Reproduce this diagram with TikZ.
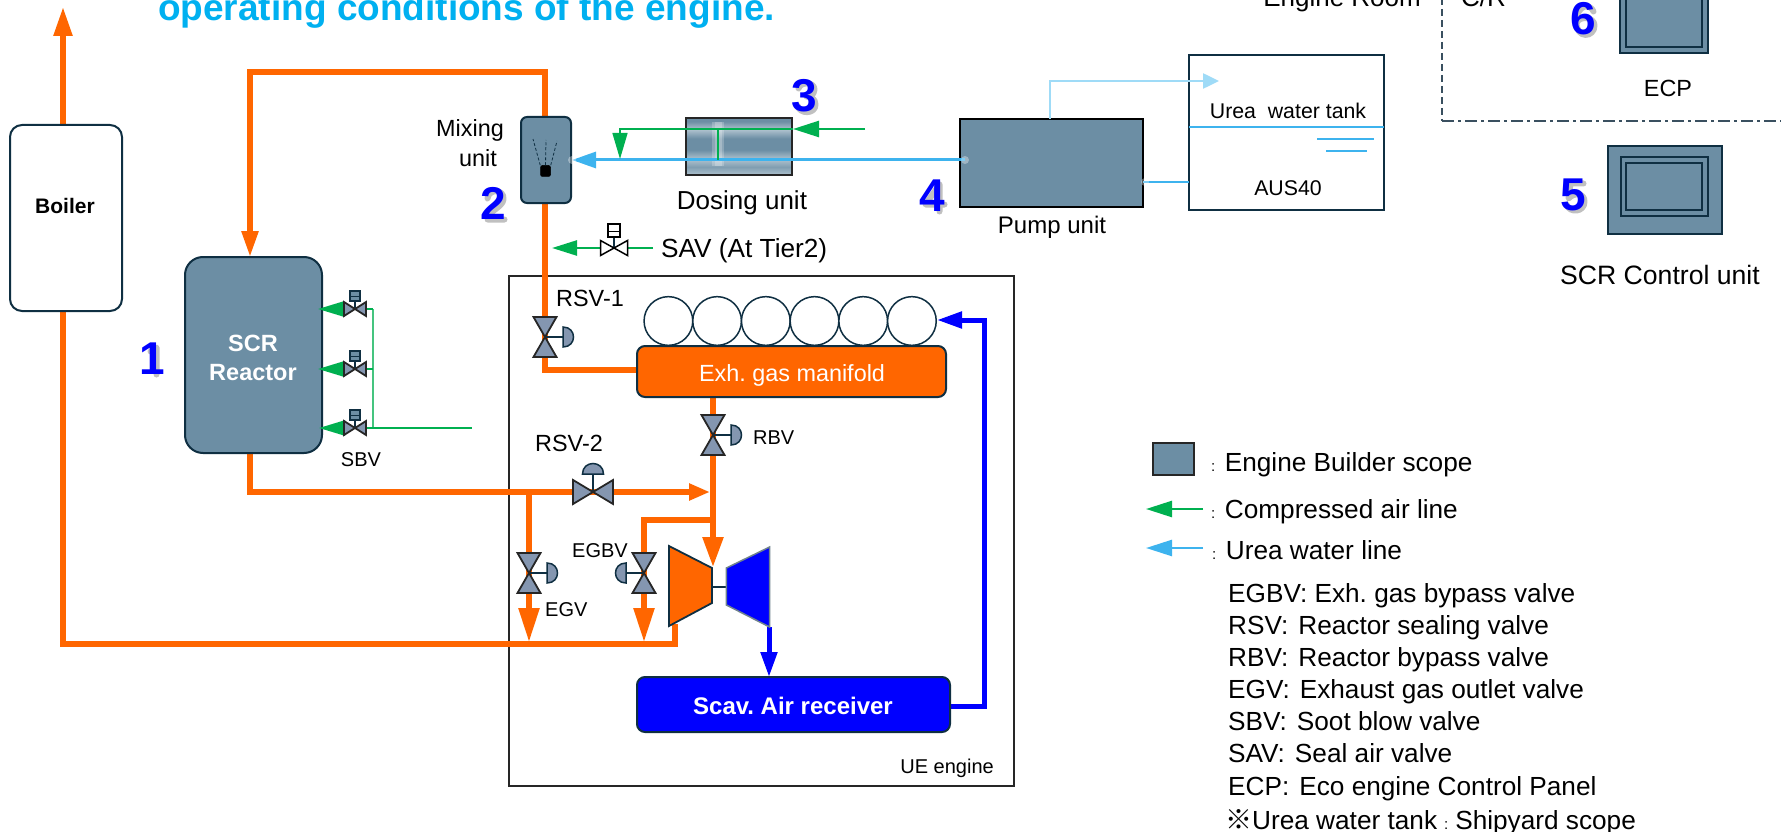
\documentclass[tikz,border=0pt]{standalone}
\usepackage{fontspec}
\setmainfont{Liberation Sans}
\newfontfamily\cjkjp{Noto Sans CJK JP}
\usetikzlibrary{arrows.meta}
\frenchspacing
\definecolor{gasorange}{HTML}{FF6600}
\definecolor{airgreen}{HTML}{00B050}
\definecolor{airlight}{HTML}{45C47F}
\definecolor{ureablue}{HTML}{3DB3EE}
\definecolor{palecyan}{HTML}{9FDBF7}
\definecolor{titlecyan}{HTML}{00B0F0}
\definecolor{scavblue}{HTML}{0000FF}
\definecolor{unitfill}{HTML}{6C8EA4}
\definecolor{unitlight}{HTML}{AFC2CE}
\definecolor{valvefill}{HTML}{8496B0}
\definecolor{darkedge}{HTML}{0F2F42}
\definecolor{dashedge}{HTML}{3A5060}
\pgfdeclareverticalshading{dosefill}{100bp}{
  color(0bp)=(unitlight); color(25bp)=(unitlight); color(32bp)=(unitfill!70!unitlight);
  color(39bp)=(unitlight); color(47bp)=(unitfill); color(57bp)=(unitfill);
  color(65bp)=(unitlight); color(72bp)=(unitfill); color(75bp)=(unitfill); color(100bp)=(unitfill)}
\tikzset{
  t20/.style={inner sep=0pt,font=\fontsize{20}{24}\selectfont,text height=14.3pt,text depth=0pt},
  t21/.style={inner sep=0pt,font=\fontsize{21.3}{25}\selectfont,text height=15.2pt,text depth=0pt},
  t23/.style={inner sep=0pt,font=\fontsize{23.4}{28}\selectfont,text height=16.7pt,text depth=0pt},
  t24/.style={inner sep=0pt,font=\fontsize{24}{28}\selectfont,text height=17.2pt,text depth=0pt},
  t26/.style={inner sep=0pt,font=\fontsize{26.2}{30}\selectfont,text height=18.8pt,text depth=0pt},
  digit/.style={inner sep=0pt,text=scavblue,font=\fontsize{46}{50}\bfseries\selectfont,text height=33pt,text depth=0pt},
  digitshadow/.style={draw=black!45,opacity=.55,line width=6pt,line cap=round,line join=round},
  unit/.style={draw=darkedge,line width=2pt,fill=unitfill,inner sep=0pt,outer sep=0pt},
  whitebox/.style={draw=darkedge,line width=2pt,fill=white,inner sep=0pt,outer sep=0pt},
  gas/.style={draw=gasorange,line width=5.5pt},
  scav/.style={draw=scavblue,line width=5pt},
  air/.style={draw=airgreen,line width=2.5pt},
  airthin/.style={draw=airgreen,line width=1.5pt},
  urea/.style={draw=ureablue,line width=3pt},
  ureathin/.style={draw=ureablue,line width=1.5pt},
  glow/.style={draw=white,opacity=.22},
  gv/.style={draw=black!85,line width=1.8pt,fill=valvefill,line join=miter},
  acte/.style={draw=darkedge,line width=1.5pt},
  dome/.style={draw=darkedge,line width=1.5pt,fill=valvefill},
  listline/.style={inner sep=0pt,font=\fontsize{26.2}{30}\selectfont,anchor=base west},
  pics/gasvalvev/.style={code={
    \draw[acte] (0,0) -- (#1*18,0);
    \draw[dome] (#1*18,-10) .. controls (#1*32,-10) and (#1*32,10) .. (#1*18,10) -- cycle;
    \draw[gv] (-11.5,-20) -- (11.5,-20) -- (-11.5,20) -- (11.5,20) -- cycle;
  }},
  pics/gasvalveh/.style={code={
    \draw[acte] (0,0) -- (0,-18);
    \draw[dome] (-10.5,-18) .. controls (-10.5,-32) and (10.5,-32) .. (10.5,-18) -- cycle;
    \draw[gv] (-20,-12) -- (-20,12) -- (20,-12) -- (20,12) -- cycle;
  }},
  pics/soot/.style={code={
    \draw[acte] (0,0) -- (0,-9);
    \draw[draw=darkedge,line width=1.2pt,fill=unitfill] (-5,-18) rectangle (5,-8);
    \draw[draw=darkedge,line width=1pt] (-5,-13) -- (5,-13);
    \draw[gv] (-11,-7) -- (-11,7) -- (11,-7) -- (11,7) -- cycle;
  }},
  pics/sealvalve/.style={code={
    \draw[acte] (0,0) -- (0,-12);
    \draw[draw=black,line width=1.2pt,fill=white] (-6,-24) rectangle (6,-11);
    \draw[draw=black,line width=1pt] (-6,-17) -- (6,-17);
    \draw[draw=black,line width=1.5pt,fill=white] (-13.5,-7.5) -- (-13.5,7.5) -- (13.5,-7.5) -- (13.5,7.5) -- cycle;
  }},
}
\begin{document}
\begin{tikzpicture}[x=1pt,y=-1pt]
\useasboundingbox (0,0) rectangle (1781,832);

% ---- coordinates for connector ends
\coordinate (stackTip) at (63,7);
\coordinate (boilerTop) at (63,125);
\coordinate (boilerBot) at (63,311);
\coordinate (boilerLow) at (63,644);
\coordinate (exhCorner) at (675,644);
\coordinate (exhOut) at (675,624);
\coordinate (inletTip) at (250,257);
\coordinate (inletTop) at (250,72);
\coordinate (mixTopCorner) at (545,72);
\coordinate (mixTop) at (545,117);
\coordinate (mixBot) at (545,203);
\coordinate (rsvOneVal) at (545,337);
\coordinate (rsvOneLow) at (545,370);
\coordinate (manifoldLeft) at (637,370);
\coordinate (reactorOut) at (250,453);
\coordinate (reactorLow) at (250,492);
\coordinate (rsvTwoVal) at (593,492);
\coordinate (rsvTwoTip) at (710,492);
\coordinate (egvTop) at (529,492);
\coordinate (egvVal) at (529,573);
\coordinate (egvTip) at (529,642);
\coordinate (rbvTop) at (713,397);
\coordinate (rbvVal) at (713,435);
\coordinate (turbTip) at (713,567);
\coordinate (egbvJoin) at (713,520);
\coordinate (egbvCorner) at (644,520);
\coordinate (egbvVal) at (644,573);
\coordinate (egbvTip) at (644,642);
\coordinate (compOut) at (769,627);
\coordinate (scavTop) at (769,677);
\coordinate (scavRight) at (950,706);
\coordinate (scavCorner) at (984,706);
\coordinate (cylCorner) at (984,320);
\coordinate (cylTip) at (937,320);
\coordinate (shaftL) at (712,587);
\coordinate (shaftR) at (726,587);
\coordinate (sootA) at (355,309);
\coordinate (sootB) at (355,369);
\coordinate (sootC) at (355,428);
\coordinate (sootATip) at (318,309);
\coordinate (sootBTip) at (318,369);
\coordinate (sootCTip) at (319,428);
\coordinate (sootHeadA) at (373,309);
\coordinate (sootHeadB) at (373,369);
\coordinate (sootHeadC) at (373,428);
\coordinate (sootFeed) at (472,428);
\coordinate (sealVal) at (614,248);
\coordinate (sealTip) at (552,248);
\coordinate (sealFeed) at (653,248);
\coordinate (doseAirIn) at (865,129);
\coordinate (doseAirTip) at (793,129);
\coordinate (doseAirLeft) at (620,129);
\coordinate (doseAirDown) at (620,159);
\coordinate (doseTeeTop) at (718,129);
\coordinate (doseTeeBot) at (718,160);
\coordinate (ureaTip) at (572,160);
\coordinate (pumpUreaOut) at (965,160);
\coordinate (returnOut) at (1050,119);
\coordinate (returnCorner) at (1050,81);
\coordinate (returnTip) at (1219,81);
\coordinate (pumpSuction) at (1143,182);
\coordinate (tankSuction) at (1189,182);
\coordinate (roomTop) at (1442,-2);
\coordinate (roomCorner) at (1442,121);
\coordinate (roomRight) at (1783,121);
\coordinate (lgAirTip) at (1146,509);
\coordinate (lgAirEnd) at (1203,509);
\coordinate (lgUreaTip) at (1146,548);
\coordinate (lgUreaEnd) at (1203,548);

% ---- title and room labels
\node[anchor=base west,inner sep=0pt,text=titlecyan,font=\fontsize{37}{40}\bfseries\selectfont] (title) at (158,21) {operating conditions of the engine.};
\node[anchor=base east,inner sep=0pt,font=\fontsize{26}{30}\selectfont] (engineroom) at (1421,7) {Engine Room};
\node[anchor=base west,inner sep=0pt,font=\fontsize{26}{30}\selectfont] (cr) at (1461,7) {C/R};
\draw[draw=dashedge,line width=1.5pt,dash pattern=on 7pt off 4pt] (roomTop) -- (roomCorner);
\draw[draw=dashedge,line width=1.5pt,dash pattern=on 12pt off 4pt on 3pt off 4pt] (roomCorner) -- (roomRight);

% ---- engine frame
\node[draw=black!85,line width=2pt,minimum width=505pt,minimum height=510pt,inner sep=0pt,outer sep=0pt] (uebox) at (761.5,531) {};
\node[t20,anchor=east] (uelabel) at (994,766) {UE engine};

% ---- gas pipes
\draw[gas,-{Triangle[length=29pt,width=18pt]}] (boilerTop) -- (stackTip);
\draw[gas] (boilerBot) -- (boilerLow) -- (exhCorner) -- (exhOut);
\draw[gas,-{Triangle[length=26pt,width=16pt]}] (mixTop) -- (mixTopCorner) -- (inletTop) -- (inletTip);
\draw[gas] (mixBot) -- (rsvOneLow) -- (manifoldLeft);
\draw[gas,-{Triangle[length=21pt,width=16pt]}] (reactorOut) -- (reactorLow) -- (rsvTwoTip);
\draw[gas,-{Triangle[length=34pt,width=20pt]}] (egvTop) -- (egvTip);
\draw[gas,-{Triangle[length=30pt,width=20pt]}] (rbvTop) -- (turbTip);
\draw[gas,-{Triangle[length=34pt,width=20pt]}] (egbvJoin) -- (egbvCorner) -- (egbvTip);

% ---- scavenge air pipes
\draw[scav,-{Triangle[length=25pt,width=16pt]}] (compOut) -- (scavTop);
\draw[scav,-{Triangle[length=25pt,width=16pt]}] (scavRight) -- (scavCorner) -- (cylCorner) -- (cylTip);

% ---- boiler, reactor, mixer
\node[whitebox,rounded corners=12pt,minimum width=112pt,minimum height=186pt] (boiler) at (66,218) {};
\node[inner sep=0pt,font=\fontsize{21}{25}\bfseries\selectfont,text height=15pt,text depth=0pt] (boilerlabel) at (65,206) {Boiler};
\node[unit,rounded corners=18pt,minimum width=137pt,minimum height=196pt] (reactor) at (253.5,355) {};
\node[inner sep=0pt,align=center,text=white,font=\fontsize{23.5}{29}\bfseries\selectfont] (reactorlabel) at (253,358) {SCR\\Reactor};
\node[unit,rounded corners=6pt,minimum width=50pt,minimum height=86pt] (mixer) at (546,160) {};
\node[draw=black,fill=black,rounded corners=2pt,line width=.5pt,minimum width=10pt,minimum height=11pt,inner sep=0pt] (nozzle) at (545.5,171) {};
\coordinate (sprayA) at (533,139);
\coordinate (sprayB) at (546,140);
\coordinate (sprayC) at (557,141);
\draw[draw=darkedge,line width=.8pt,dash pattern=on 3pt off 2pt] (nozzle.north west) -- (sprayA);
\draw[draw=darkedge,line width=.8pt,dash pattern=on 3pt off 2pt] (nozzle.north) -- (sprayB);
\draw[draw=darkedge,line width=.8pt,dash pattern=on 3pt off 2pt] (nozzle.north east) -- (sprayC);
\node[inner sep=0pt,align=center,font=\fontsize{23.4}{30}\selectfont] (mixlabel) at (470,143) {Mixing\\\hspace*{16pt}unit};

% ---- dosing unit
\node[draw=black!85,line width=1.8pt,shade,shading=dosefill,minimum width=106pt,minimum height=57pt,inner sep=0pt,outer sep=0pt] (dosing) at (739,146.5) {};
\coordinate (doseGlowTop) at (718,122);
\coordinate (doseGlowBot) at (718,166);
\draw[glow,line width=12pt] (doseGlowTop) -- (doseGlowBot);
\draw[glow,line width=7pt] (doseGlowTop) -- (doseGlowBot);
\node[inner sep=0pt,font=\fontsize{26}{30}\selectfont,text height=18.6pt,text depth=0pt] (dosinglabel) at (742,200) {Dosing unit};

% ---- pump and tank
\node[draw=black,line width=2pt,fill=unitfill,minimum width=183pt,minimum height=88pt,inner sep=0pt,outer sep=0pt] (pump) at (1051.5,163) {};
\node[t24] (pumplabel) at (1052,225) {Pump unit};
\node[whitebox,minimum width=195pt,minimum height=155pt] (tank) at (1286.5,132.5) {};
\node[t21] (tanklabel) at (1288,111) {Urea\ \ water tank};
\node[t21] (aus) at (1288,188) {AUS40};
\coordinate (levelL) at (1189,127);
\coordinate (levelR) at (1384,127);
\coordinate (waveAL) at (1317,139);
\coordinate (waveAR) at (1374,139);
\coordinate (waveBL) at (1326,151);
\coordinate (waveBR) at (1367,151);
\draw[ureathin] (levelL) -- (levelR);
\draw[ureathin] (waveAL) -- (waveAR);
\draw[ureathin] (waveBL) -- (waveBR);

% ---- urea lines
\draw[urea,-{Triangle[length=24pt,width=16pt]}] (pumpUreaOut) -- (ureaTip);
\draw[draw=palecyan,line width=2.5pt,-{Triangle[length=16pt,width=15pt]}] (returnOut) -- (returnCorner) -- (returnTip);
\draw[ureathin] (pumpSuction) -- (tankSuction);
\fill[white,opacity=.35] (572,160) circle (4pt);
\fill[white,opacity=.35] (965,160) circle (4pt);
\fill[white,opacity=.35] (1145,182) circle (4pt);

% ---- compressed air
\draw[air,-{Triangle[length=26pt,width=16pt]}] (doseAirIn) -- (doseAirTip);
\draw[airthin,-{Triangle[length=26pt,width=15pt]}] (doseAirTip) -- (doseAirLeft) -- (doseAirDown);
\draw[airthin] (doseTeeTop) -- (doseTeeBot);
\draw[air,-{Triangle[length=26pt,width=15pt]}] (sootA) -- (sootATip);
\draw[air,-{Triangle[length=26pt,width=15pt]}] (sootB) -- (sootBTip);
\draw[air,-{Triangle[length=26pt,width=15pt]}] (sootC) -- (sootCTip);
\draw[draw=airlight,line width=1.5pt] (sootHeadA) -- (sootHeadC);
\draw[air] (sootA) -- (sootHeadA);
\draw[air] (sootB) -- (sootHeadB);
\draw[air] (sootC) -- (sootFeed);
\draw[air,-{Triangle[length=25pt,width=15pt]}] (sealFeed) -- (sealTip);

% ---- engine parts
\foreach \i/\cx in {1/668.4,2/717.1,3/765.8,4/814.5,5/863.2,6/911.9}{
  \node[draw=darkedge,line width=1.5pt,fill=white,circle,minimum size=48.7pt,inner sep=0pt,outer sep=0pt] (cyl\i) at (\cx,321) {};
}
\node[draw=darkedge,line width=2pt,fill=gasorange,rounded corners=8pt,minimum width=309pt,minimum height=51pt,inner sep=0pt,outer sep=0pt] (manifold) at (791.5,371.5) {};
\node[t23,text=white] (manifoldlabel) at (792,373) {Exh. gas manifold};
\node[draw=darkedge,line width=2pt,fill=scavblue,rounded corners=8pt,minimum width=313pt,minimum height=55pt,inner sep=0pt,outer sep=0pt] (scavrec) at (793.5,704.5) {};
\node[inner sep=0pt,text=white,font=\fontsize{24}{28}\bfseries\selectfont,text height=17pt,text depth=0pt] (scavlabel) at (793,706) {Scav. Air receiver};

% ---- turbocharger
\draw[draw=darkedge,line width=1.5pt] (shaftL) -- (shaftR);
\draw[draw=darkedge,line width=1.8pt,fill=gasorange,line join=miter] (669,546) -- (712,568) -- (712,603) -- (669,626) -- cycle;
\draw[draw=darkedge!60,line width=1.5pt,fill=scavblue,line join=miter] (726.4,568) -- (769.6,547) -- (769.6,627) -- (726.4,605) -- cycle;

% ---- valves
\pic at (rsvOneVal) {gasvalvev=1};
\pic at (rbvVal) {gasvalvev=1};
\pic at (egvVal) {gasvalvev=1};
\pic at (egbvVal) {gasvalvev=-1};
\pic at (rsvTwoVal) {gasvalveh};
\pic at (sootA) {soot};
\pic at (sootB) {soot};
\pic at (sootC) {soot};
\pic at (sealVal) {sealvalve};

% ---- valve labels
\node[t23,anchor=west] (lrsvone) at (556,298) {RSV-1};
\node[t23] (lrsvtwo) at (569,443) {RSV-2};
\node[t20,anchor=west] (lrbv) at (753,437) {RBV};
\node[t20,anchor=west] (legv) at (545,609) {EGV};
\node[t20,anchor=west] (legbv) at (572,550) {EGBV};
\node[t20] (lsbv) at (361,459) {SBV};
\node[t26,anchor=west] (lsav) at (661,248) {SAV (At Tier2)};

% ---- control units
\node[unit,minimum width=88pt,minimum height=70pt] (ecpouter) at (1664,18) {};
\node[draw=darkedge,line width=2pt,fill=unitfill,minimum width=76pt,minimum height=48pt,inner sep=0pt] (ecpinner) at (1664,23) {};
\node[t23] (ecplabel) at (1668,88) {ECP};
\node[unit,minimum width=114pt,minimum height=88pt] (scrouter) at (1665,190) {};
\node[draw=darkedge,line width=2pt,fill=unitfill,minimum width=87pt,minimum height=59pt,inner sep=0pt] (scrmid) at (1664.5,186.5) {};
\node[draw=darkedge,line width=2pt,fill=unitfill,minimum width=76pt,minimum height=47pt,inner sep=0pt] (scrinner) at (1664,186.5) {};
\node[inner sep=0pt,font=\fontsize{26.6}{30}\selectfont,text height=19pt,text depth=0pt] (scrlabel) at (1660,275) {SCR Control unit};

% ---- number shadows (soft grey under the digits)
\coordinate (c1) at (154.5,360.5);
\coordinate (c2) at (495.5,205.5);
\coordinate (c3) at (806.5,97.5);
\coordinate (c4) at (934.5,197.5);
\coordinate (c5) at (1575.5,196.5);
\coordinate (c6) at (1585.5,20.5);
\draw[digitshadow,shift={(c1)}] (-4,-9) -- (2,-13) -- (2,14);
\draw[digitshadow,shift={(c2)}] (-8,-7) .. controls (-7,-17) and (9,-17) .. (8,-6) .. controls (7,2) and (-8,6) .. (-8,14) -- (9,14);
\draw[digitshadow,shift={(c3)}] (-8,-9) .. controls (-6,-16) and (8,-16) .. (8,-8) .. controls (8,-2) and (2,-1) .. (0,-1) .. controls (4,-1) and (9,1) .. (9,7) .. controls (9,17) and (-7,17) .. (-9,8);
\draw[digitshadow,shift={(c4)}] (5,14) -- (5,-13) -- (-9,7) -- (10,7);
\draw[digitshadow,shift={(c5)}] (8,-13) -- (-5,-13) -- (-7,2) .. controls (-2,-4) and (9,-4) .. (9,5) .. controls (9,16) and (-6,17) .. (-9,8);
\draw[digitshadow,shift={(c6)}] (8,-9) .. controls (5,-17) and (-9,-17) .. (-9,2) .. controls (-9,19) and (9,17) .. (9,5) .. controls (9,-4) and (-7,-5) .. (-9,3);

% ---- numbers
\node[digit] (n1) at (152,358) {1};
\node[digit] (n2) at (493,203) {2};
\node[digit] (n3) at (804,95) {3};
\node[digit] (n4) at (932,195) {4};
\node[digit] (n5) at (1573,194) {5};
\node[digit] (n6) at (1583,18) {6};

% ---- legend
\node[draw=black!85,line width=2pt,fill=unitfill,minimum width=41pt,minimum height=32pt,inner sep=0pt] (lgbox) at (1173.5,459) {};
\draw[air,-{Triangle[length=26pt,width=16pt]}] (lgAirEnd) -- (lgAirTip);
\draw[urea,line width=2.5pt,-{Triangle[length=26pt,width=16pt]}] (lgUreaEnd) -- (lgUreaTip);
\newcommand{\smallcolon}{{\fontsize{15}{15}\selectfont:}\hspace{9.5pt}}
\node[listline] (lg1) at (1211,471) {\smallcolon Engine Builder scope};
\node[listline] (lg2) at (1211,518) {\smallcolon Compressed air line};
\node[listline] (lg3) at (1212,559) {\smallcolon Urea water line};
\node[listline] (k1) at (1228,602) {EGBV: Exh. gas bypass valve};
\node[listline] (k2) at (1228,634) {RSV:\hspace{10pt}Reactor sealing valve};
\node[listline] (k3) at (1228,666) {RBV:\hspace{10pt}Reactor bypass valve};
\node[listline] (k4) at (1228,698) {EGV:\hspace{10pt}Exhaust gas outlet valve};
\node[listline] (k5) at (1228,730) {SBV:\hspace{10pt}Soot blow valve};
\node[listline] (k6) at (1228,762) {SAV:\hspace{10pt}Seal air valve};
\node[listline] (k7) at (1228,795) {ECP:\hspace{10pt}Eco engine Control Panel};
\node[listline] (k8) at (1225,829) {{\cjkjp\fontsize{27}{28}\selectfont ※}Urea water tank\hspace{7pt}{\fontsize{15}{15}\selectfont:}\hspace{7pt}Shipyard scope};
\end{tikzpicture}
\end{document}
